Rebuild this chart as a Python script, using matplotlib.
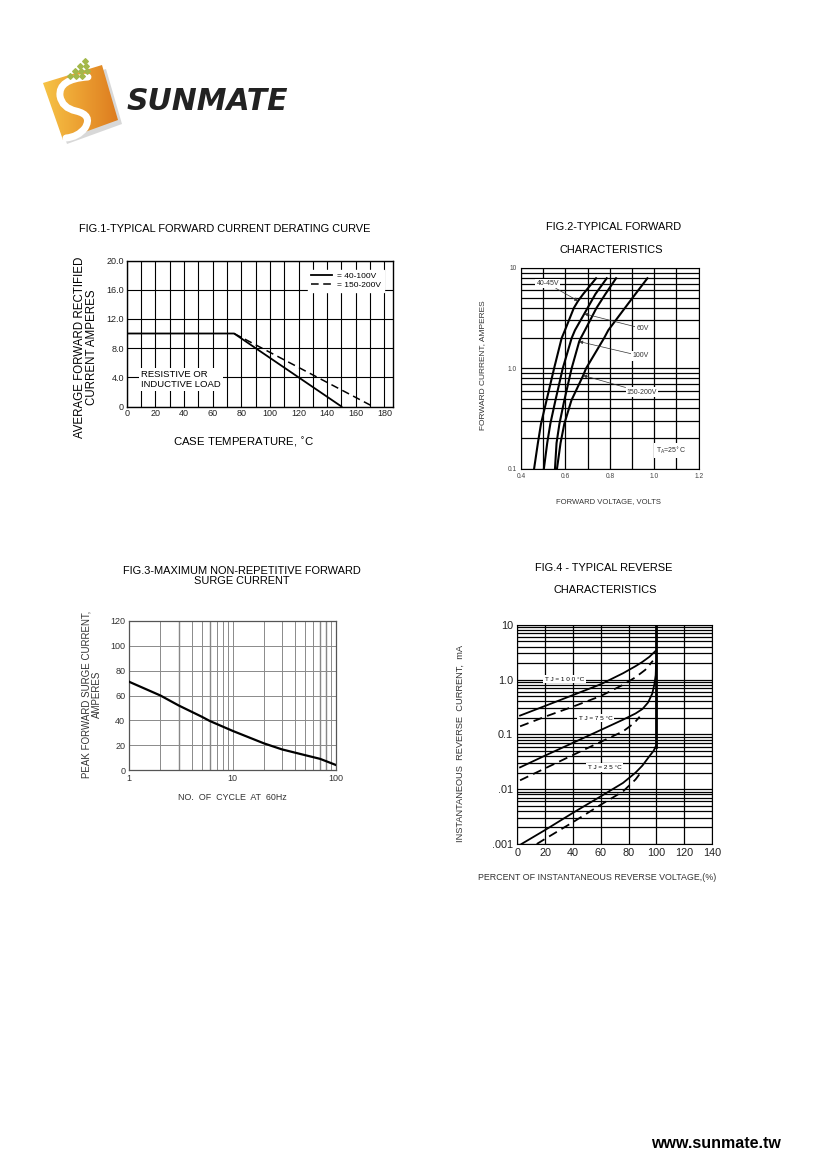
import numpy as np
import matplotlib
matplotlib.use("Agg")
import matplotlib.pyplot as plt
from matplotlib.patches import Polygon
from matplotlib.path import Path
from matplotlib.patches import PathPatch
from matplotlib.colors import LinearSegmentedColormap
from matplotlib.ticker import FixedLocator, NullFormatter

plt.rcParams['font.family'] = ['Liberation Sans', 'DejaVu Sans']

W, H = 826, 1169

# ---- Fig.1 derating curve
temp_solid = [0, 75, 150]
amps_solid = [10.0, 10.0, 0.0]
temp_dash = [75, 172]
amps_dash = [10.0, 0.0]
fig1_yticks = [0, 4, 8, 12, 16, 20]
fig1_ylabels = ['0', '4.0', '8.0', '12.0', '16.0', '20.0']
fig1_xticks = [0, 20, 40, 60, 80, 100, 120, 140, 160, 180]

# ---- Fig.2 forward characteristics (volts, amps)
vf_4045 = [0.459, 0.476, 0.490, 0.515, 0.549, 0.583, 0.598, 0.638, 0.657, 0.680, 0.738]
if_4045 = [0.1, 0.18, 0.28, 0.48, 1.0, 2.0, 2.4, 4.0, 4.7, 5.5, 7.9]
vf_60 = [0.503, 0.518, 0.532, 0.555, 0.588, 0.628, 0.643, 0.685, 0.735, 0.786]
if_60 = [0.1, 0.18, 0.28, 0.48, 1.0, 2.0, 2.4, 3.5, 5.5, 7.9]
vf_100 = [0.553, 0.560, 0.573, 0.595, 0.628, 0.662, 0.669, 0.688, 0.740, 0.780, 0.828]
if_100 = [0.1, 0.18, 0.28, 0.48, 1.0, 1.85, 2.0, 2.4, 4.0, 5.5, 7.9]
vf_150 = [0.562, 0.578, 0.595, 0.627, 0.680, 0.693, 0.774, 0.793, 0.868, 0.915, 0.969]
if_150 = [0.1, 0.18, 0.28, 0.48, 0.85, 1.0, 2.0, 2.4, 4.0, 5.5, 7.9]

# ---- Fig.3 surge current
cycles = [1, 2, 3, 5, 6, 10, 20, 30, 50, 70, 100]
surge = [71, 60, 52, 43, 39.5, 31.5, 21.5, 16.6, 12, 9, 4]

# ---- Fig.4 reverse characteristics (% of VR, mA)
vr_100 = [2, 20, 40, 60, 76, 85, 90, 95, 99.3]
ir_100 = [0.22, 0.33, 0.52, 0.82, 1.3, 1.75, 2.1, 2.6, 3.3]
vr_100d = [2, 20, 40, 60, 76, 85, 92, 97.5]
ir_100d = [0.14, 0.21, 0.32, 0.5, 0.8, 1.1, 1.5, 2.2]
vr_75 = [2, 20, 40, 60, 76, 85, 90, 94, 97, 98.5, 99.5, 99.8]
ir_75 = [0.025, 0.041, 0.07, 0.12, 0.185, 0.24, 0.29, 0.38, 0.55, 0.8, 1.2, 2.0]
vr_75d = [2, 20, 40, 60, 76, 84, 88]
ir_75d = [0.0145, 0.024, 0.042, 0.073, 0.113, 0.16, 0.21]
vr_25 = [3, 20, 40, 60, 76, 85, 90, 95, 98, 99.5]
ir_25 = [0.001, 0.0018, 0.0037, 0.0074, 0.013, 0.02, 0.027, 0.04, 0.05, 0.06]
vr_25d = [14, 20, 40, 60, 76, 85, 90]
ir_25d = [0.001, 0.00124, 0.0025, 0.0052, 0.0091, 0.015, 0.022]
vr_break = [100, 100]
ir_break = [0.06, 10]


def px_axes(fig, left, top, right, bottom):
    return fig.add_axes([left / W, 1 - bottom / H, (right - left) / W, (bottom - top) / H])


def ftext(fig, x, y, s, **kw):
    kw.setdefault('ha', 'center')
    kw.setdefault('va', 'center')
    return fig.text(x / W, 1 - y / H, s, **kw)


fig = plt.figure(figsize=(W / 100, H / 100), dpi=100)

# ---------------- logo / footer on a background layer
bg = fig.add_axes([0, 0, 1, 1])
bg.axis('off')

shadow = Polygon([(47, 87), (106, 69), (122, 124), (67, 144)], closed=True,
                 facecolor='#c8c8c8', edgecolor='none', alpha=0.7)
bg.add_patch(shadow)
square = Polygon([(43, 83), (102, 65), (118, 120), (63, 140)], closed=True,
                 facecolor='none', edgecolor='none')
bg.add_patch(square)
orange = LinearSegmentedColormap.from_list('org', ['#f7c648', '#eca032', '#dc7a1e'])
grad = np.linspace(0, 1, 100).reshape(1, -1)
im = bg.imshow(grad, extent=(40, 120, 145, 60), cmap=orange, aspect='auto', zorder=2)
im.set_clip_path(square)
s_path = Path([(88, 77), (58, 79), (60, 96), (62, 108), (76, 111), (93, 115), (85, 128),
               (78, 137), (66, 138)],
              [Path.MOVETO, Path.CURVE3, Path.CURVE3, Path.CURVE3, Path.CURVE3,
               Path.CURVE3, Path.CURVE3, Path.CURVE3, Path.CURVE3])
bg.add_patch(PathPatch(s_path, facecolor='none', edgecolor='white', lw=5,
                       capstyle='round', zorder=3))
dots_x = [85, 80, 86, 75, 81, 87, 70, 76, 82]
dots_y = [61, 66, 66, 71, 71, 71, 76, 76, 76]
bg.scatter(dots_x, dots_y, marker='D', s=8, color='#a3b84a', zorder=3)
bg.text(127, 101, 'SUNMATE', fontsize=21.5, fontweight='bold', style='italic',
        family='DejaVu Sans', color='#222222', ha='left', va='center')
bg.text(781, 1143, 'www.sunmate.tw', fontsize=11.5, fontweight='bold',
        ha='right', va='center', color='black')
bg.set_xlim(0, W)
bg.set_ylim(H, 0)

# ---------------- Fig.1
ax1 = px_axes(fig, 126.7, 260.5, 393, 406.5)
ax1.plot(temp_solid, amps_solid, color='black', lw=1.3, label='= 40-100V')
ax1.plot(temp_dash, amps_dash, color='black', lw=1.1, ls=(0, (5, 3)), label='= 150-200V')
ax1.set_xlim(0, 186)
ax1.set_ylim(0, 20)
ax1.set_yticks(fig1_yticks)
ax1.set_yticklabels(fig1_ylabels)
ax1.set_xticks(fig1_xticks)
ax1.xaxis.set_minor_locator(FixedLocator(np.arange(10, 186, 20)))
ax1.grid(True, which='both', axis='x', color='black', lw=0.8)
ax1.grid(True, which='major', axis='y', color='black', lw=0.8)
ax1.tick_params(which='both', length=0, labelsize=6.5, pad=2, colors='#222222')
for sp in ax1.spines.values():
    sp.set_linewidth(1.0)
leg = ax1.legend(loc='upper right', fontsize=6, frameon=True, fancybox=False,
                 borderpad=0.3, handlelength=2.6, labelspacing=0.15,
                 handletextpad=0.6, borderaxespad=1.1)
leg.get_frame().set_edgecolor('white')
leg.get_frame().set_alpha(1)
ax1.text(10, 3.75, 'RESISTIVE OR\nINDUCTIVE LOAD', fontsize=6.8, ha='left', va='center',
         linespacing=1.15, bbox=dict(facecolor='white', edgecolor='none', pad=1.5))
ftext(fig, 225, 229, 'FIG.1-TYPICAL FORWARD CURRENT DERATING CURVE', fontsize=7.9)
ftext(fig, 86, 347, 'AVERAGE FORWARD RECTIFIED\nCURRENT AMPERES', fontsize=8.3,
      rotation=90, linespacing=1.0)
ftext(fig, 244, 442, 'CASE TEMPERATURE, $^{\\circ}$C', fontsize=8.2)

# ---------------- Fig.2
ax2 = px_axes(fig, 521, 268, 698.7, 468.7)
for v, i in [(vf_4045, if_4045), (vf_60, if_60), (vf_100, if_100), (vf_150, if_150)]:
    ax2.plot(v, i, color='black', lw=1.5, zorder=3)
ax2.set_yscale('log')
ax2.set_xlim(0.4, 1.2)
ax2.set_ylim(0.1, 10)
ax2.set_xticks([0.4, 0.6, 0.8, 1.0, 1.2])
ax2.set_xticklabels(['0.4', '0.6', '0.8', '1.0', '1.2'])
ax2.xaxis.set_minor_locator(FixedLocator([0.5, 0.7, 0.9, 1.1]))
ax2.set_yticks([0.1, 1.0, 10])
ax2.set_yticklabels(['0.1', '1.0', '10'])
ax2.yaxis.set_minor_formatter(NullFormatter())
ax2.grid(True, which='both', color='black', lw=0.9)
ax2.tick_params(which='both', length=0, labelsize=4.8, pad=3, colors='#444444')
arrow_kw = dict(arrowstyle='-|>', lw=0.5, color='#333333', mutation_scale=5,
                shrinkA=0, shrinkB=0)
box_kw = dict(facecolor='white', edgecolor='none', pad=0.8)
ax2.annotate('40-45V', xy=(vf_4045[8], if_4045[8]), xytext=(0.52, 6.98), fontsize=5,
             ha='center', va='center', color='#333333', bbox=box_kw, arrowprops=arrow_kw, zorder=4)
ax2.annotate('60V', xy=(vf_60[7], if_60[7]), xytext=(0.947, 2.49), fontsize=5,
             ha='center', va='center', color='#333333', bbox=box_kw, arrowprops=arrow_kw, zorder=4)
ax2.annotate('100V', xy=(vf_100[5], if_100[5]), xytext=(0.938, 1.33), fontsize=5,
             ha='center', va='center', color='#333333', bbox=box_kw, arrowprops=arrow_kw, zorder=4)
ax2.annotate('150-200V', xy=(vf_150[4], if_150[4]), xytext=(0.944, 0.58), fontsize=5,
             ha='center', va='center', color='#333333', bbox=box_kw, arrowprops=arrow_kw, zorder=4)
ax2.text(1.075, 0.152, 'T$_\\mathregular{A}$=25$^{\\circ}$C', fontsize=5, ha='center',
         va='center', color='#333333', bbox=dict(facecolor='white', edgecolor='none', pad=1.5))
ftext(fig, 614, 227, 'FIG.2-TYPICAL FORWARD', fontsize=7.9)
ftext(fig, 611, 250, 'CHARACTERISTICS', fontsize=7.9)
ftext(fig, 483, 365, 'FORWARD CURRENT, AMPERES', fontsize=6.0, rotation=90, color='#333333')
ftext(fig, 608, 502, 'FORWARD VOLTAGE, VOLTS', fontsize=5.5, color='#333333')

# ---------------- Fig.3
ax3 = px_axes(fig, 129.3, 621, 336, 770)
ax3.plot(cycles, surge, color='black', lw=1.6, zorder=3)
ax3.set_xscale('log')
ax3.set_xlim(1, 100)
ax3.set_ylim(0, 120)
ax3.set_yticks([0, 20, 40, 60, 80, 100, 120])
ax3.set_xticks([1, 10, 100])
ax3.set_xticklabels(['1', '10', '100'])
ax3.xaxis.set_minor_formatter(NullFormatter())
ax3.grid(True, which='both', color='#8a8a8a', lw=0.7)
dark_x = [3, 6, 70, 80]
for xv in dark_x:
    ax3.axvline(xv, color='#333333', lw=0.9, zorder=1)
ax3.tick_params(which='both', length=0, labelsize=6.5, pad=3, colors='#333333')
for sp in ax3.spines.values():
    sp.set_color('#555555')
    sp.set_linewidth(0.9)
ftext(fig, 242, 576, 'FIG.3-MAXIMUM NON-REPETITIVE FORWARD\nSURGE CURRENT', fontsize=7.9,
      linespacing=0.9)
ftext(fig, 92, 694, 'PEAK FORWARD SURGE CURRENT,\nAMPERES', fontsize=7.0, rotation=90,
      linespacing=1.1, color='#333333')
ftext(fig, 232, 798, 'NO.  OF  CYCLE  AT  60Hz', fontsize=6.4, color='#333333')

# ---------------- Fig.4
ax4 = px_axes(fig, 517.3, 624.7, 712, 844)
ax4.plot(vr_100, ir_100, color='black', lw=1.3, zorder=3)
ax4.plot(vr_100d, ir_100d, color='black', lw=1.3, ls=(0, (5, 3)), zorder=3)
ax4.plot(vr_75, ir_75, color='black', lw=1.3, zorder=3)
ax4.plot(vr_75d, ir_75d, color='black', lw=1.3, ls=(0, (5, 3)), zorder=3)
ax4.plot(vr_25, ir_25, color='black', lw=1.3, zorder=3)
ax4.plot(vr_25d, ir_25d, color='black', lw=1.3, ls=(0, (5, 3)), zorder=3)
ax4.plot(vr_break, ir_break, color='black', lw=2.0, zorder=3)
ax4.set_yscale('log')
ax4.set_xlim(0, 140)
ax4.set_ylim(0.001, 10)
ax4.set_xticks([0, 20, 40, 60, 80, 100, 120, 140])
ax4.set_yticks([0.001, 0.01, 0.1, 1.0, 10])
ax4.set_yticklabels(['.001', '.01', '0.1', '1.0', '10'])
ax4.yaxis.set_minor_formatter(NullFormatter())
ax4.grid(True, which='both', color='black', lw=0.9)
ax4.tick_params(which='both', length=0, labelsize=7.8, pad=3, colors='#222222')
lab_box = dict(facecolor='white', edgecolor='none', pad=1.2)
ax4.text(34, 1.02, 'T J = 1 0 0 °C', fontsize=4.6, ha='center', va='center', bbox=lab_box, zorder=4)
ax4.text(56.5, 0.198, 'T J = 7 5 °C', fontsize=4.6, ha='center', va='center', bbox=lab_box, zorder=4)
ax4.text(63, 0.025, 'T J = 2 5 °C', fontsize=4.6, ha='center', va='center', bbox=lab_box, zorder=4)
ftext(fig, 604, 568, 'FIG.4 - TYPICAL REVERSE', fontsize=7.9)
ftext(fig, 605, 590, 'CHARACTERISTICS', fontsize=7.9)
ftext(fig, 460, 744, 'INSTANTANEOUS  REVERSE  CURRENT,  mA', fontsize=6.7, rotation=90,
      color='#333333')
ftext(fig, 597, 877, 'PERCENT OF INSTANTANEOUS REVERSE VOLTAGE,(%)', fontsize=6.4,
      color='#333333', family=['Liberation Sans Narrow', 'Liberation Sans'])

fig.savefig('out.png', dpi=100)
